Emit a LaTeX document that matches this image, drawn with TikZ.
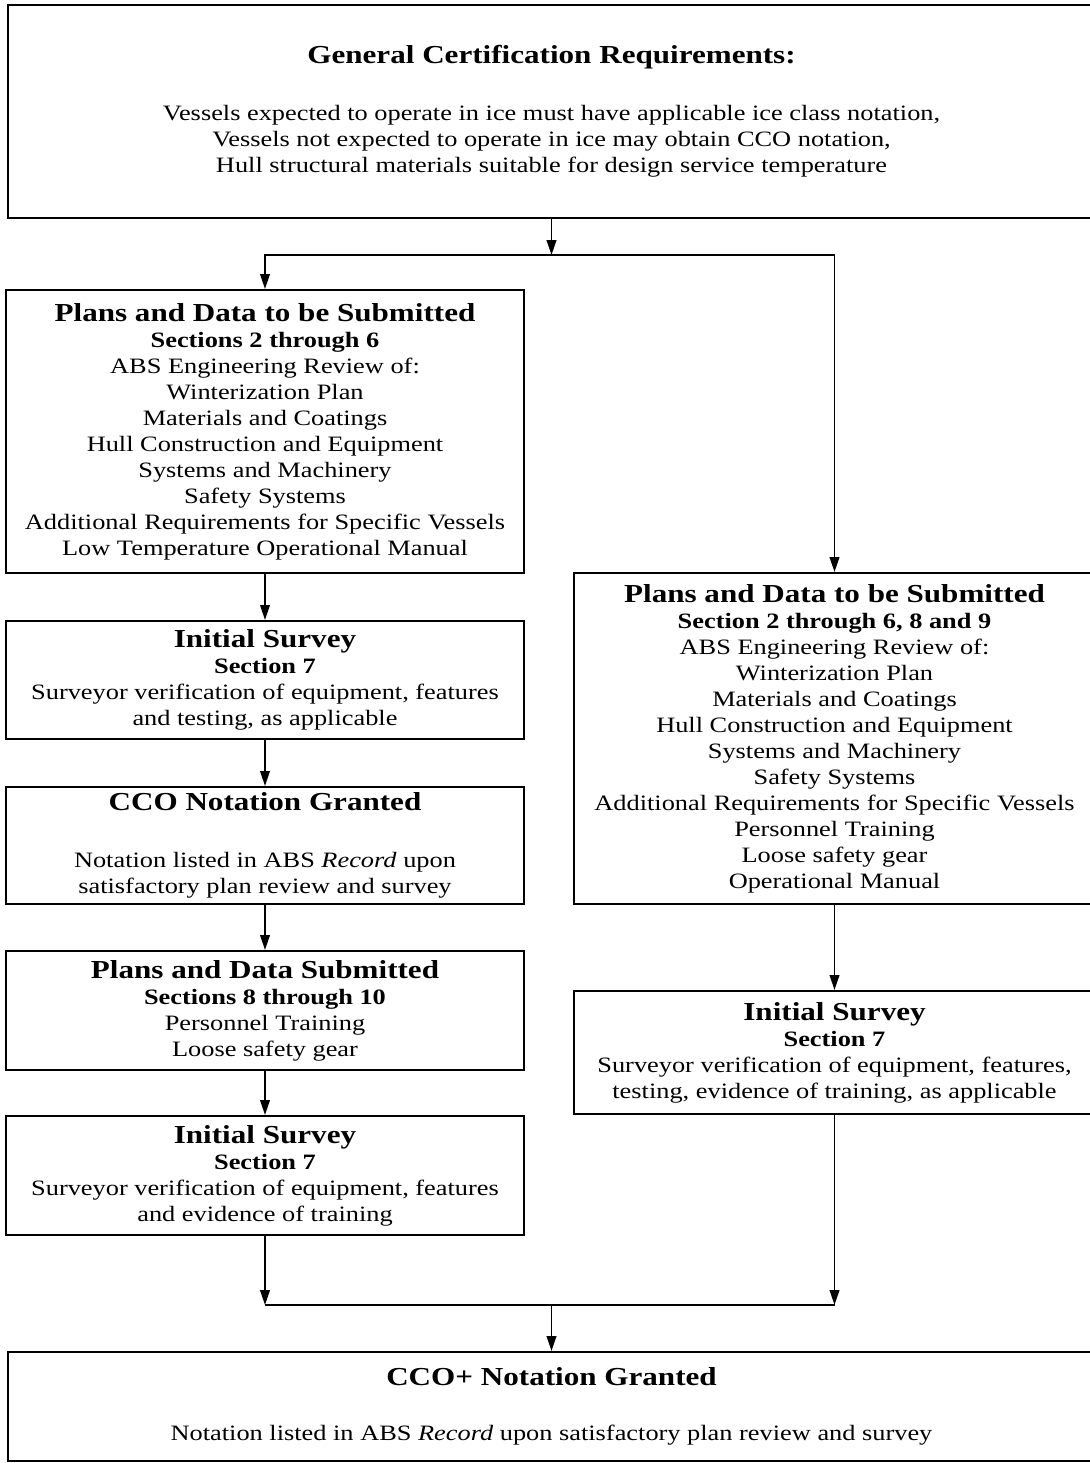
\documentclass[tikz,border=0pt]{standalone}
\usepackage{fontspec}
\setmainfont[FakeStretch=1.2]{Liberation Serif}
\usetikzlibrary{arrows.meta}
\newcommand{\boxhead}[1]{{\fontsize{14.75}{14.8}\selectfont\bfseries #1}}
\newcommand{\boxsec}[1]{{\bfseries #1}}
\begin{document}
\begin{tikzpicture}[x=0.02cm,y=-0.02cm,
 box/.style={draw,line width=1.2pt,align=center,inner sep=0pt,font=\fontsize{12.5}{14.8}\selectfont},
 lbox/.style={box,minimum width=10.36cm},
 rbox/.style={box,minimum width=10.42cm},
 wbox/.style={box,minimum width=21.74cm},
 arr/.style={line width=1pt,-{Triangle[width=5.5pt,length=8.5pt]}}]
 \useasboundingbox (0,0) rectangle (1089,1463);

 \node[wbox,minimum height=4.26cm] (gen) at (551.5,111.5) {\boxhead{General Certification Requirements:}\\[0.62cm]
  Vessels expected to operate in ice must have applicable ice class notation,\\
  Vessels not expected to operate in ice may obtain CCO notation,\\
  Hull structural materials suitable for design service temperature};

 % left branch
 \node[lbox,minimum height=5.66cm] (plans) at (265,431.5) {\boxhead{Plans and Data to be Submitted}\\
  \boxsec{Sections 2 through 6}\\
  ABS Engineering Review of:\\
  Winterization Plan\\
  Materials and Coatings\\
  Hull Construction and Equipment\\
  Systems and Machinery\\
  Safety Systems\\
  Additional Requirements for Specific Vessels\\
  Low Temperature Operational Manual};
 \node[lbox,minimum height=2.36cm] (survey) at (265,680) {\boxhead{Initial Survey}\\
  \boxsec{Section 7}\\
  Surveyor verification of equipment, features\\
  and testing, as applicable};
 \node[lbox,minimum height=2.34cm] (cco) at (265,845.5) {\boxhead{CCO Notation Granted}\\[0.62cm]
  Notation listed in ABS \textit{Record} upon\\
  satisfactory plan review and survey};
 \node[lbox,minimum height=2.38cm] (plansb) at (265,1010.5) {\boxhead{Plans and Data Submitted}\\
  \boxsec{Sections 8 through 10}\\
  Personnel Training\\
  Loose safety gear};
 \node[lbox,minimum height=2.38cm] (surveyb) at (265,1175.5) {\boxhead{Initial Survey}\\
  \boxsec{Section 7}\\
  Surveyor verification of equipment, features\\
  and evidence of training};

 % right branch
 \node[rbox,minimum height=6.62cm] (rplans) at (834.5,738.5) {\boxhead{Plans and Data to be Submitted}\\
  \boxsec{Section 2 through 6, 8 and 9}\\
  ABS Engineering Review of:\\
  Winterization Plan\\
  Materials and Coatings\\
  Hull Construction and Equipment\\
  Systems and Machinery\\
  Safety Systems\\
  Additional Requirements for Specific Vessels\\
  Personnel Training\\
  Loose safety gear\\
  Operational Manual};
 \node[rbox,minimum height=2.46cm] (rsurvey) at (834.5,1052.5) {\boxhead{Initial Survey}\\
  \boxsec{Section 7}\\
  Surveyor verification of equipment, features,\\
  testing, evidence of training, as applicable};

 \node[wbox,minimum height=2.18cm] (ccoplus) at (551.5,1406.5) {\boxhead{CCO+ Notation Granted}\\[0.58cm]
  Notation listed in ABS \textit{Record} upon satisfactory plan review and survey};

 \coordinate (split) at (gen.south |- 0,255);
 \coordinate (join) at (ccoplus.north |- 0,1305);

 \draw[arr] (gen) -- (split);
 \draw[arr] (split) -| (plans);
 \draw[arr] (split) -| (rplans);
 \draw[arr] (plans) -- (survey);
 \draw[arr] (survey) -- (cco);
 \draw[arr] (cco) -- (plansb);
 \draw[arr] (plansb) -- (surveyb);
 \draw[arr] (rplans) -- (rsurvey);
 \draw[arr] (surveyb) -- (surveyb |- join);
 \draw[arr] (rsurvey) -- (rsurvey |- join);
 \draw[line width=1pt] (surveyb |- join) -- (rsurvey |- join);
 \draw[arr] (join) -- (ccoplus);
\end{tikzpicture}
\end{document}
